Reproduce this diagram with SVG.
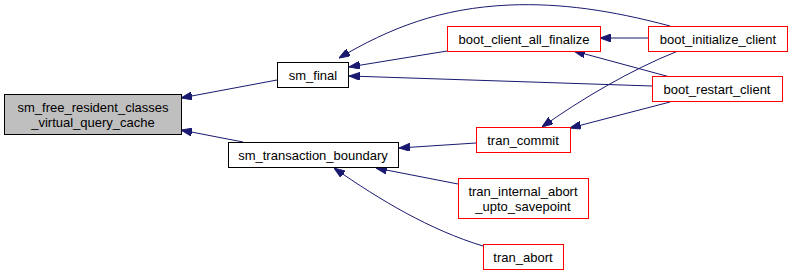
<svg xmlns="http://www.w3.org/2000/svg" width="792" height="276" viewBox="0 0 792 276">
  <style>
    .box { fill: #ffffff; stroke: #000000; stroke-width: 1; }
    .root { fill: #bfbfbf; stroke: #000000; stroke-width: 1; }
    .ext { fill: #ffffff; stroke: #ff0000; stroke-width: 1; }
    .lbl { font-family: "Liberation Sans", Arial, Helvetica, sans-serif; font-size: 13px; fill: #000000; text-anchor: middle; }
    .edge { fill: none; stroke: #191970; stroke-width: 1; marker-end: url(#head); }
  </style>
  <defs>
    <marker id="head" viewBox="0 0 11 8" refX="11" refY="4" markerWidth="11" markerHeight="8" markerUnits="userSpaceOnUse" orient="auto">
      <path d="M0,0 L11,4 L0,8 Z" fill="#191970" stroke="#191970"/>
    </marker>
  </defs>
  <rect width="792" height="276" fill="#ffffff"/>

  <g id="edges">
    <path class="edge" d="M277,80 L181,98"/>
    <path class="edge" d="M243,142 L181,130"/>
    <path class="edge" d="M447,51 L349,67"/>
    <path class="edge" d="M670,26 C610,10 560,3 510,5 C440,8 390,28 339,58"/>
    <path class="edge" d="M652,86 L349,76"/>
    <path class="edge" d="M648,38 L600,38"/>
    <path class="edge" d="M670,77 L574,51"/>
    <path class="edge" d="M678,51 C630,70 580,100 542,127"/>
    <path class="edge" d="M670,102 L570,128"/>
    <path class="edge" d="M476,143 L399,148"/>
    <path class="edge" d="M458,184 L376,168"/>
    <path class="edge" d="M483,246 C430,230 380,200 334,168"/>
  </g>

  <g id="sm_free_resident_classes_virtual_query_cache">
    <rect class="root" x="4.5" y="94.5" width="177" height="40"/>
    <text class="lbl" x="93" y="112">sm_free_resident_classes</text>
    <text class="lbl" x="93" y="127">_virtual_query_cache</text>
  </g>
  <g id="sm_final">
    <rect class="box" x="277.5" y="62.5" width="71" height="25"/>
    <text class="lbl" x="313" y="79.5">sm_final</text>
  </g>
  <g id="sm_transaction_boundary">
    <rect class="box" x="228.5" y="142.5" width="170" height="25"/>
    <text class="lbl" x="313" y="159.5">sm_transaction_boundary</text>
  </g>
  <g id="boot_client_all_finalize">
    <rect class="ext" x="447.5" y="26.5" width="153" height="25"/>
    <text class="lbl" x="524" y="43.5">boot_client_all_finalize</text>
  </g>
  <g id="boot_initialize_client">
    <rect class="ext" x="648.5" y="26.5" width="139" height="25"/>
    <text class="lbl" x="718" y="43.5">boot_initialize_client</text>
  </g>
  <g id="boot_restart_client">
    <rect class="ext" x="652.5" y="76.5" width="130" height="25"/>
    <text class="lbl" x="717" y="93.5">boot_restart_client</text>
  </g>
  <g id="tran_commit">
    <rect class="ext" x="476.5" y="127.5" width="94" height="25"/>
    <text class="lbl" x="523" y="144.5">tran_commit</text>
  </g>
  <g id="tran_internal_abort_upto_savepoint">
    <rect class="ext" x="458.5" y="178.5" width="130" height="40"/>
    <text class="lbl" x="523" y="196">tran_internal_abort</text>
    <text class="lbl" x="523" y="211">_upto_savepoint</text>
  </g>
  <g id="tran_abort">
    <rect class="ext" x="483.5" y="244.5" width="80" height="25"/>
    <text class="lbl" x="523" y="261.5">tran_abort</text>
  </g>
</svg>
